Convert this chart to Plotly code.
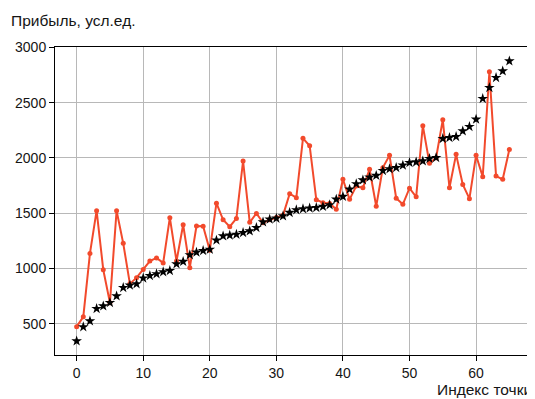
import plotly.graph_objects as go

# Data
index = list(range(66))
sorted_profit = [343, 470, 524, 636, 659, 690, 750, 826, 847, 860, 912, 934, 950, 968, 980,
                 1040, 1062, 1122, 1146, 1160, 1172, 1255, 1293, 1300, 1308, 1323, 1338, 1369,
                 1420, 1444, 1453, 1474, 1505, 1529, 1538, 1545, 1550, 1560, 1575, 1625, 1650,
                 1716, 1765, 1800, 1825, 1840, 1885, 1900, 1912, 1933, 1957, 1962, 1972, 1993,
                 2002, 2174, 2183, 2192, 2243, 2283, 2349, 2536, 2636, 2726, 2786, 2877]
raw_profit = [473, 562, 1136, 1522, 988, 690, 1522, 1227, 860, 916, 991, 1066, 1095, 1050,
              1459, 1066, 1395, 1007, 1383, 1381, 1165, 1590, 1440, 1378, 1452, 1972, 1417,
              1498, 1414, 1440, 1460, 1480, 1676, 1640, 2177, 2110, 1622, 1595, 1588, 1535,
              1806, 1625, 1745, 1730, 1897, 1562, 1912, 2023, 1636, 1580, 1726, 1648, 2291,
              1951, 2002, 2346, 1730, 2032, 1760, 1631, 2023, 1830, 2780, 1836, 1806, 2077]
x_ticks = [0, 10, 20, 30, 40, 50, 60]
y_ticks = [500, 1000, 1500, 2000, 2500, 3000]
y_title = "Прибыль, усл.ед."
x_title = "Индекс точки"

# matplotlib-like 5% margins
ymin = min(min(sorted_profit), min(raw_profit))
ymax = max(max(sorted_profit), max(raw_profit))
yspan = ymax - ymin
xmin, xmax = min(index), max(index)
xspan = xmax - xmin

FONT = "Liberation Sans"
TXT = "#151515"

fig = go.Figure()
fig.add_trace(go.Scatter(
    x=index, y=raw_profit, mode="lines+markers",
    line=dict(color="#f24a2c", width=2),
    marker=dict(color="#f24a2c", size=5, symbol="circle"),
    showlegend=False, hoverinfo="skip"))
fig.add_trace(go.Scatter(
    x=index, y=sorted_profit, mode="markers",
    marker=dict(color="black", size=8, symbol="star", line=dict(width=0)),
    showlegend=False, hoverinfo="skip"))

axis_common = dict(
    showgrid=True, gridcolor="#b8b8b8", gridwidth=1,
    showline=True, linecolor="black", linewidth=1, mirror=True,
    ticks="outside", ticklen=5, tickcolor="black", tickwidth=1,
    zeroline=False,
    tickfont=dict(family=FONT, size=14, color=TXT),
)

fig.update_xaxes(range=[xmin - 0.05 * xspan, xmax + 0.05 * xspan],
                 tickvals=x_ticks, **axis_common)
fig.update_yaxes(range=[ymin - 0.05 * yspan, ymax + 0.05 * yspan],
                 tickvals=y_ticks, **axis_common)

# The page body has an 8px default margin, so the figure is sized to fit
fig.update_layout(
    width=527, height=391,
    margin=dict(l=47, r=4, t=39, b=44),
    paper_bgcolor="white", plot_bgcolor="white",
    font=dict(family=FONT, size=14, color=TXT),
    annotations=[
        dict(text=y_title, xref="paper", yref="paper", x=-0.0975, y=1.0845,
             xanchor="left", yanchor="middle", showarrow=False,
             font=dict(family=FONT, size=15.5, color=TXT)),
        dict(text=x_title, xref="paper", yref="paper", x=1.006, y=-0.1136,
             xanchor="right", yanchor="middle", showarrow=False,
             font=dict(family=FONT, size=15.5, color=TXT)),
    ],
)

fig.write_html("out.html")
